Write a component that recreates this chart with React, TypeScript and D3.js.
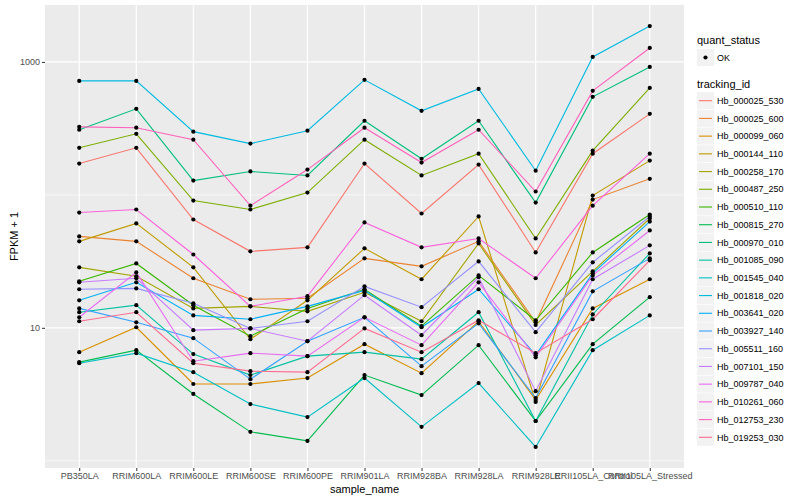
import { useEffect, useRef } from "react";
import * as d3 from "d3";

const samples = [
  "PB350LA", "RRIM600LA", "RRIM600LE", "RRIM600SE", "RRIM600PE", "RRIM901LA",
  "RRIM928BA", "RRIM928LA", "RRIM928LE", "RRII105LA_Control", "RRII105LA_Stressed",
];

const trackingIds = [
  "Hb_000025_530", "Hb_000025_600", "Hb_000099_060", "Hb_000144_110", "Hb_000258_170",
  "Hb_000487_250", "Hb_000510_110", "Hb_000815_270", "Hb_000970_010", "Hb_001085_090",
  "Hb_001545_040", "Hb_001818_020", "Hb_003641_020", "Hb_003927_140", "Hb_005511_160",
  "Hb_007101_150", "Hb_009787_040", "Hb_010261_060", "Hb_012753_230", "Hb_019253_030",
];

const palette = [
  "#F8766D", "#EA8331", "#D89000", "#C09B00", "#A3A500", "#7CAE00", "#39B600", "#00BB4E",
  "#00BF7D", "#00C1A3", "#00BFC4", "#00BAE0", "#00B0F6", "#35A2FF", "#9590FF", "#C77CFF",
  "#E76BF3", "#FA62DB", "#FF62BC", "#FF6C91",
];

// FPKM + 1, one value per sample
const hb_000025_530 = [172, 226, 65.3, 37.6, 40.3, 172, 72.4, 169, 36.9, 204, 407];
const hb_000025_600 = [48.7, 44.7, 23.6, 16.4, 16.7, 33.3, 29, 44.7, 11.0, 92.2, 132];
const hb_000099_060 = [6.56, 10.1, 3.78, 3.78, 4.19, 7.53, 4.56, 11.2, 2.86, 14.0, 23.2];
const hb_000144_110 = [44.7, 61, 28.5, 8.2, 16.1, 39.6, 23.2, 68.8, 2.77, 98.8, 181];
const hb_000258_170 = [28.5, 24.4, 14.0, 14.5, 13.3, 18.5, 11.2, 43.1, 10.5, 26.6, 66.4];
const hb_000487_250 = [226, 288, 90.6, 77.6, 104, 260, 140, 204, 47, 215, 638];
const hb_000510_110 = [22.4, 30.5, 14.8, 8.65, 14.0, 19.5, 10.3, 24.8, 11.4, 36.9, 71.2];
const hb_000815_270 = [5.52, 6.79, 3.18, 1.65, 1.41, 4.41, 3.12, 7.4, 1.99, 7.53, 17.0];
const hb_000970_010 = [309, 444, 128, 150, 140, 361, 187, 361, 87.5, 546, 917];
const hb_001085_090 = [13.1, 14.8, 6.34, 4.41, 6.12, 6.56, 5.81, 13.1, 1.99, 12.6, 36.3];
const hb_001545_040 = [5.42, 6.45, 4.64, 2.67, 2.13, 4.19, 1.8, 3.84, 1.27, 6.79, 12.4];
const hb_001818_020 = [720, 720, 299, 243, 304, 733, 429, 627, 152, 1090, 1862];
const hb_003641_020 = [16.1, 22.0, 12.4, 11.6, 14.5, 19.1, 10.1, 19.5, 6.23, 25.7, 63];
const hb_003927_140 = [14.0, 11.0, 8.36, 4.11, 7.93, 12.0, 5.15, 10.8, 2.96, 18.8, 33.3];
const hb_005511_160 = [19.5, 19.8, 15.3, 9.9, 11.2, 20.5, 14.3, 31.6, 9.27, 31.1, 68.8];
const hb_007101_150 = [22.0, 23.6, 9.6, 9.9, 7.93, 17.6, 8.8, 24.0, 3.34, 23.2, 41.7];
const hb_009787_040 = [12.0, 26.1, 5.61, 6.45, 6.12, 12.0, 7.4, 22.0, 6.0, 24.8, 54];
const hb_010261_060 = [73.6, 77.6, 35.6, 14.5, 17.3, 62, 40.3, 47, 23.6, 83, 204];
const hb_012753_230 = [325, 320, 260, 83, 155, 320, 175, 309, 106, 606, 1274];
const hb_019253_030 = [11.2, 13.1, 5.42, 4.72, 4.64, 9.9, 6.56, 11.4, 6.45, 11.6, 32.2];

const seriesValues = [
  hb_000025_530, hb_000025_600, hb_000099_060, hb_000144_110, hb_000258_170,
  hb_000487_250, hb_000510_110, hb_000815_270, hb_000970_010, hb_001085_090,
  hb_001545_040, hb_001818_020, hb_003641_020, hb_003927_140, hb_005511_160,
  hb_007101_150, hb_009787_040, hb_010261_060, hb_012753_230, hb_019253_030,
];

const yMajor = [10, 1000];
const yMinor = [1, 100];

const FONT = "'Liberation Sans', Arial, sans-serif";

export default function App() {
  const svgRef = useRef<SVGSVGElement>(null);

  useEffect(() => {
    if (!svgRef.current) return;
    const width = 800;
    const height = 500;
    const panel = { left: 45, right: 684, top: 5, bottom: 468 };

    const svg = d3.select(svgRef.current);
    svg.selectAll("*").remove();
    svg.attr("width", width).attr("height", height);

    svg.append("rect").attr("width", width).attr("height", height).attr("fill", "#ffffff");

    const x = d3.scalePoint<string>()
      .domain(samples)
      .range([panel.left, panel.right])
      .padding(0.6);

    // log extent, expanded 5% like ggplot
    const logs = seriesValues.flat().map((v) => Math.log10(v));
    const [lo, hi] = d3.extent(logs) as [number, number];
    const pad = (hi - lo) * 0.05;
    const y = d3.scaleLog()
      .domain([Math.pow(10, lo - pad), Math.pow(10, hi + pad)])
      .range([panel.bottom, panel.top]);

    // Panel
    svg.append("rect")
      .attr("x", panel.left)
      .attr("y", panel.top)
      .attr("width", panel.right - panel.left)
      .attr("height", panel.bottom - panel.top)
      .attr("fill", "#EBEBEB");

    const grid = svg.append("g");
    grid.selectAll("line.minor")
      .data(yMinor)
      .join("line")
      .attr("x1", panel.left)
      .attr("x2", panel.right)
      .attr("y1", (d) => y(d))
      .attr("y2", (d) => y(d))
      .attr("stroke", "#ffffff")
      .attr("stroke-width", 0.6);
    grid.selectAll("line.major")
      .data(yMajor)
      .join("line")
      .attr("x1", panel.left)
      .attr("x2", panel.right)
      .attr("y1", (d) => y(d))
      .attr("y2", (d) => y(d))
      .attr("stroke", "#ffffff")
      .attr("stroke-width", 1.2);
    grid.selectAll("line.vx")
      .data(samples)
      .join("line")
      .attr("x1", (d) => x(d)!)
      .attr("x2", (d) => x(d)!)
      .attr("y1", panel.top)
      .attr("y2", panel.bottom)
      .attr("stroke", "#ffffff")
      .attr("stroke-width", 1.2);

    // Lines
    const line = d3.line<number>()
      .x((_, i) => x(samples[i])!)
      .y((d) => y(d));

    svg.append("g")
      .selectAll("path")
      .data(seriesValues)
      .join("path")
      .attr("fill", "none")
      .attr("stroke", (_, i) => palette[i])
      .attr("stroke-width", 1.1)
      .attr("d", line);

    // Points
    const pts = seriesValues.flatMap((vals) => vals.map((v, i) => ({ s: samples[i], v })));
    svg.append("g")
      .selectAll("circle")
      .data(pts)
      .join("circle")
      .attr("cx", (d) => x(d.s)!)
      .attr("cy", (d) => y(d.v))
      .attr("r", 2.1)
      .attr("fill", "#000000");

    // Y axis
    svg.append("g")
      .attr("transform", `translate(${panel.left},0)`)
      .call(d3.axisLeft(y).tickValues(yMajor).tickFormat((d) => String(d)).tickSize(3).tickPadding(2))
      .call((g) => {
        g.select(".domain").remove();
        g.selectAll(".tick line").attr("stroke", "#333333").attr("stroke-width", 1);
        g.selectAll(".tick text").attr("fill", "#4D4D4D").attr("font-family", FONT).attr("font-size", "9px");
      });

    // X axis
    svg.append("g")
      .attr("transform", `translate(0,${panel.bottom})`)
      .call(d3.axisBottom(x).tickSize(3).tickPadding(2))
      .call((g) => {
        g.select(".domain").remove();
        g.selectAll(".tick line").attr("stroke", "#333333").attr("stroke-width", 1);
        g.selectAll(".tick text").attr("fill", "#4D4D4D").attr("font-family", FONT).attr("font-size", "9px");
      });

    // Axis titles
    svg.append("text")
      .attr("x", (panel.left + panel.right) / 2)
      .attr("y", 493)
      .attr("text-anchor", "middle")
      .attr("font-family", FONT)
      .attr("font-size", "11px")
      .attr("fill", "#000000")
      .text("sample_name");

    svg.append("text")
      .attr("transform", `translate(18,${(panel.top + panel.bottom) / 2}) rotate(-90)`)
      .attr("text-anchor", "middle")
      .attr("font-family", FONT)
      .attr("font-size", "11px")
      .attr("fill", "#000000")
      .text("FPKM + 1");

    // Legend
    const lx = 697;
    const legend = svg.append("g");
    legend.append("text")
      .attr("x", lx)
      .attr("y", 44)
      .attr("font-family", FONT)
      .attr("font-size", "11px")
      .text("quant_status");
    legend.append("rect")
      .attr("x", lx).attr("y", 49).attr("width", 17).attr("height", 17)
      .attr("fill", "#F2F2F2");
    legend.append("circle")
      .attr("cx", lx + 8.5).attr("cy", 57.5).attr("r", 2.1).attr("fill", "#000000");
    legend.append("text")
      .attr("x", lx + 20)
      .attr("y", 60.5)
      .attr("font-family", FONT)
      .attr("font-size", "9px")
      .attr("fill", "#000000")
      .text("OK");

    legend.append("text")
      .attr("x", lx)
      .attr("y", 88)
      .attr("font-family", FONT)
      .attr("font-size", "11px")
      .text("tracking_id");

    const rowY = d3.scaleLinear().domain([0, trackingIds.length - 1]).range([100.7, 437.3]);
    const rows = legend.selectAll("g.row")
      .data(trackingIds)
      .join("g")
      .attr("transform", (_, i) => `translate(${lx},${rowY(i)})`);
    rows.append("rect")
      .attr("x", 0).attr("y", -8.5).attr("width", 17).attr("height", 17)
      .attr("fill", "#F2F2F2");
    rows.append("line")
      .attr("x1", 2).attr("x2", 15).attr("y1", 0).attr("y2", 0)
      .attr("stroke", (_, i) => palette[i])
      .attr("stroke-width", 1.1);
    rows.append("text")
      .attr("x", 20)
      .attr("y", 3.2)
      .attr("font-family", FONT)
      .attr("font-size", "9px")
      .attr("fill", "#000000")
      .text((d) => d);
  }, []);

  return (
    <div style={{ position: "absolute", left: 0, top: 0 }}>
      <svg ref={svgRef} style={{ display: "block", width: 800, height: 500 }} />
    </div>
  );
}
